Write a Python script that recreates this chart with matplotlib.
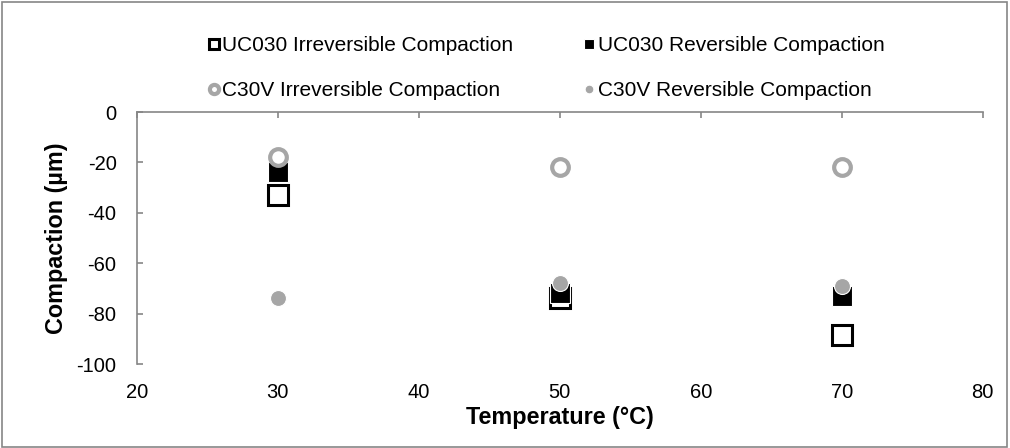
import matplotlib.pyplot as plt
from matplotlib.patches import Rectangle

plt.rcParams['font.family'] = ['Liberation Sans', 'DejaVu Sans']
plt.rcParams['axes.unicode_minus'] = False

# dados
temperatura = [30, 50, 70]
uc030_irrev = [-33, -74, -88.5]
uc030_rev = [-24, -72, -73]
c30v_irrev = [-18, -22, -22]
c30v_rev = [-74, -68, -69]

x_ticks = [20, 30, 40, 50, 60, 70, 80]
y_ticks = [0, -20, -40, -60, -80, -100]

cinza_eixo = '#868686'
cinza_marca = '#a6a6a6'

fig = plt.figure(figsize=(10.1, 4.48), dpi=100)
ax = fig.add_axes([0.1353, 0.1875, 0.973 - 0.1353, 0.75 - 0.1875])

h1, = ax.plot(temperatura, uc030_irrev, linestyle='none', marker='s', markersize=14,
              markerfacecolor='white', markeredgecolor='black', markeredgewidth=2.2,
              label='UC030 Irreversible Compaction')
h2, = ax.plot(temperatura, uc030_rev, linestyle='none', marker='s', markersize=14,
              markerfacecolor='black', markeredgecolor='white', markeredgewidth=0.8,
              label='UC030 Reversible Compaction')
h3, = ax.plot(temperatura, c30v_irrev, linestyle='none', marker='o', markersize=12,
              markerfacecolor='white', markeredgecolor=cinza_marca, markeredgewidth=3,
              label='C30V Irreversible Compaction')
h4, = ax.plot(temperatura, c30v_rev, linestyle='none', marker='o', markersize=11.5,
              markerfacecolor=cinza_marca, markeredgecolor='white', markeredgewidth=0.8,
              label='C30V Reversible Compaction')

ax.set_xlim(20, 80)
ax.set_ylim(-100, 0)
ax.set_xticks(x_ticks)
ax.set_yticks(y_ticks)

for lado in ['right', 'bottom']:
    ax.spines[lado].set_visible(False)
for lado in ['left', 'top']:
    ax.spines[lado].set_color(cinza_eixo)
    ax.spines[lado].set_linewidth(1.2)

ax.tick_params(axis='x', top=True, bottom=False, labelbottom=True, labeltop=False,
               direction='in', length=4, color=cinza_eixo, width=1.2, pad=13.5, labelsize=14.5)
ax.tick_params(axis='y', direction='in', length=4, color=cinza_eixo, width=1.2,
               pad=14.5, labelsize=14.5)

ax.set_xlabel('Temperature (°C)', fontsize=16.8, fontweight='bold', labelpad=3)
ax.set_ylabel('Compaction (µm)', fontsize=16.8, fontweight='bold', labelpad=6)

# legenda em duas colunas (preenchida por coluna)
leg = fig.legend(handles=[h1, h3, h2, h4], ncol=2, loc='upper left',
                 bbox_to_anchor=(0.188, 0.9605), frameon=False, fontsize=15,
                 markerscale=0.55, handlelength=0.5, handletextpad=0.15,
                 columnspacing=3.4, labelspacing=1.25)

# borda do grafico
fig.patches.append(Rectangle((0.002, 0.003), 0.995, 0.993, transform=fig.transFigure,
                             fill=False, edgecolor=cinza_eixo, linewidth=1.2))

plt.savefig('out.png', dpi=100)
